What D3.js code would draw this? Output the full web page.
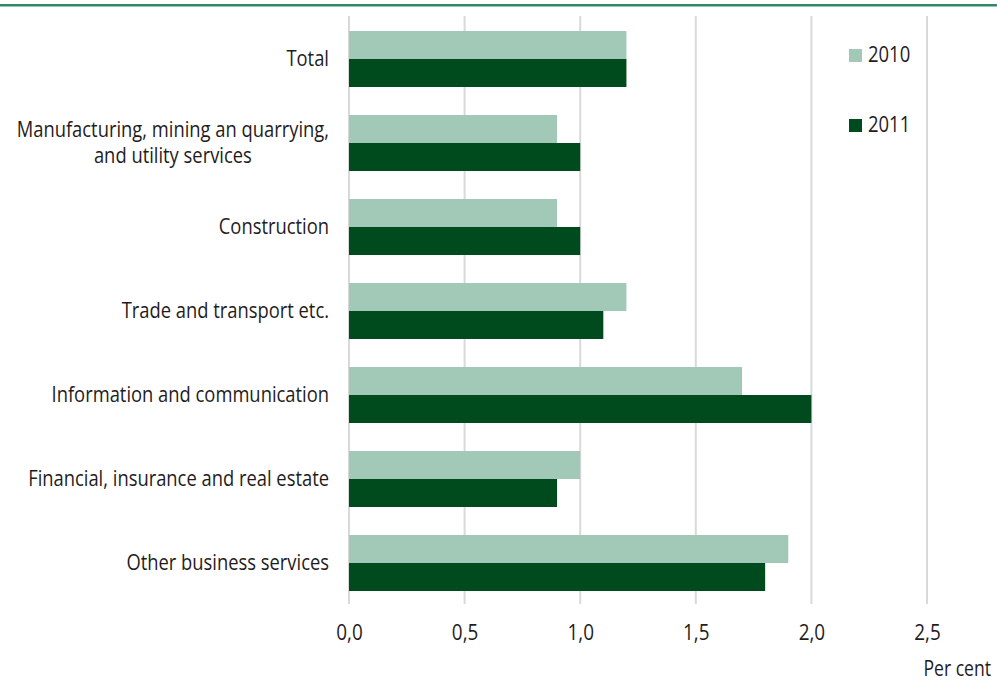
<!DOCTYPE html>
<html>
<head>
<meta charset="utf-8">
<script src="https://cdn.jsdelivr.net/npm/d3@7"></script>
<style>
  html, body { margin: 0; padding: 0; background: #fff; }
  svg text { font-family: "Open Sans", "Noto Sans", sans-serif; fill: #1f1c1d; }
</style>
</head>
<body>
<svg id="chart" width="997" height="684"></svg>
<script>
// Sector names (multi-line labels split on "\n")
const categories = [
  "Total",
  "Manufacturing, mining an quarrying,\nand utility services",
  "Construction",
  "Trade and transport etc.",
  "Information and communication",
  "Financial, insurance and real estate",
  "Other business services"
];
const seriesNames = ["2010", "2011"];
const values2010 = [1.2, 0.9, 0.9, 1.2, 1.7, 1.0, 1.9];
const values2011 = [1.2, 1.0, 1.0, 1.1, 2.0, 0.9, 1.8];
const tickValues = [0, 0.5, 1.0, 1.5, 2.0, 2.5];
const tickLabels = ["0,0", "0,5", "1,0", "1,5", "2,0", "2,5"];
const colors = ["#a2c9b7", "#004b1e"];

const svg = d3.select("#chart");
const W = 997;
const FS = 22;          // font size
const NARROW = 0.835;   // horizontal squeeze for a condensed look

const x = d3.scaleLinear().domain([0, 2.5]).range([349, 927]);
const y = d3.scaleBand().domain(categories).range([17, 605])
  .paddingInner(1 / 3).paddingOuter(1 / 6);
const ySub = d3.scaleBand().domain(seriesNames).range([0, y.bandwidth()]);

// top rule
svg.append("rect").attr("x", 0).attr("y", 4).attr("width", W).attr("height", 2.5)
  .attr("fill", "#2e8a63");

// vertical gridlines
svg.append("g").selectAll("line").data(tickValues).join("line")
  .attr("x1", d => x(d)).attr("x2", d => x(d))
  .attr("y1", 16).attr("y2", 604)
  .attr("stroke", "#d9d9d9").attr("stroke-width", 2);

// bars
const rows = categories.map((c, i) => ({ c, v: [values2010[i], values2011[i]] }));
const g = svg.append("g").selectAll("g").data(rows).join("g")
  .attr("transform", d => `translate(0,${y(d.c)})`);
g.selectAll("rect").data(d => d.v.map((v, k) => ({ k, v }))).join("rect")
  .attr("x", x(0))
  .attr("y", d => ySub(seriesNames[d.k]))
  .attr("width", d => x(d.v) - x(0))
  .attr("height", ySub.bandwidth())
  .attr("fill", d => colors[d.k]);

// category labels: block right-aligned to the axis, lines centred inside it
const labels = svg.append("g").selectAll("g").data(categories).join("g")
  .attr("transform", d => `translate(329,${y(d) + y.bandwidth() / 2})`)
  .append("text")
  .attr("font-size", FS)
  .attr("transform", `scale(${NARROW},1)`);
labels.each(function (d) {
  const lines = d.split("\n");
  const t = d3.select(this);
  const lh = 26;
  const spans = lines.map((ln, i) => t.append("tspan")
    .attr("y", (i - (lines.length - 1) / 2) * lh + 7)
    .text(ln));
  const widest = d3.max(spans, s => s.node().getComputedTextLength());
  spans.forEach(s => s.attr("text-anchor", "middle").attr("x", -widest / 2));
});

// x axis tick labels
const xAxis = d3.axisBottom(x).tickValues(tickValues)
  .tickFormat((d, i) => tickLabels[i]).tickSize(0).tickPadding(0);
const ax = svg.append("g").attr("transform", "translate(0,640)").call(xAxis);
ax.select(".domain").remove();
ax.selectAll("text").attr("font-size", FS).attr("font-family", null)
  .attr("fill", "#1f1c1d").attr("dy", 0).attr("y", 0)
  .attr("transform", "scale(0.86,1)");

svg.append("g").attr("transform", "translate(991,676)")
  .append("text").attr("text-anchor", "end").attr("font-size", FS)
  .attr("transform", "scale(0.8,1)").text("Per cent");

// legend
const leg = svg.append("g").selectAll("g").data(seriesNames).join("g")
  .attr("transform", (d, i) => `translate(849,${49 + i * 70})`);
leg.append("rect").attr("x", 0).attr("y", 0).attr("width", 13).attr("height", 13)
  .attr("fill", (d, i) => colors[i]);
leg.append("g").attr("transform", "translate(19,13)")
  .append("text").attr("font-size", FS).attr("transform", "scale(0.84,1)").text(d => d);
</script>
</body>
</html>
